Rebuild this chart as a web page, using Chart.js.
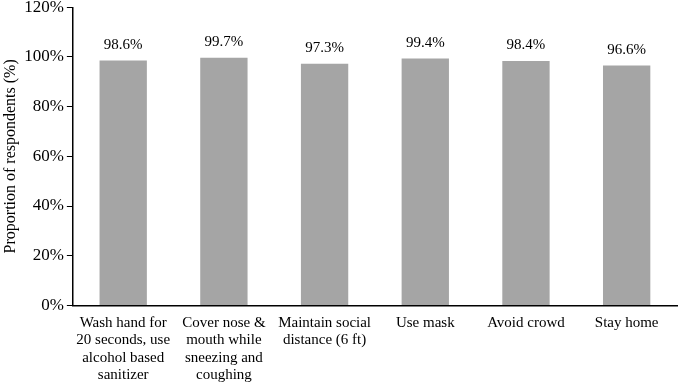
<!DOCTYPE html>
<html>
<head>
<meta charset="utf-8">
<script src="https://cdn.jsdelivr.net/npm/chart.js@4"></script>
<style>
  html, body { margin: 0; padding: 0; background: #fff; }
  #wrap { width: 678px; height: 382px; }
</style>
</head>
<body>
<div id="wrap"><canvas id="myChart" width="678" height="382"></canvas></div>
<script>
const categories = [
  ["Wash hand for", "20 seconds, use", "alcohol based", "sanitizer"],
  ["Cover nose &", "mouth while", "sneezing and", "coughing"],
  ["Maintain social", "distance (6 ft)"],
  "Use mask",
  "Avoid crowd",
  "Stay home",
];
const proportions = [98.6, 99.7, 97.3, 99.4, 98.4, 96.6];
const yTicks = [0, 20, 40, 60, 80, 100, 120];

const serif = "'Liberation Serif', 'Times New Roman', serif";

// draws the value above each bar
const valueLabels = {
  id: "valueLabels",
  afterDatasetsDraw(chart) {
    const ctx = chart.ctx;
    const meta = chart.getDatasetMeta(0);
    ctx.save();
    ctx.font = "15px " + serif;
    ctx.fillStyle = "#000";
    ctx.textAlign = "center";
    ctx.textBaseline = "bottom";
    meta.data.forEach((bar, i) => {
      ctx.fillText(proportions[i].toFixed(1) + "%", bar.x, bar.y - 8);
    });
    ctx.restore();
  },
};

new Chart(document.getElementById("myChart"), {
  type: "bar",
  data: {
    labels: categories,
    datasets: [
      {
        label: "Proportion",
        data: proportions,
        backgroundColor: "#a5a5a5",
        borderWidth: 0,
        barPercentage: 0.47,
        categoryPercentage: 1,
      },
    ],
  },
  options: {
    responsive: false,
    animation: false,
    layout: { padding: { left: 1, right: 1, top: 0, bottom: -3 } },
    plugins: {
      legend: { display: false },
      tooltip: { enabled: false },
    },
    scales: {
      x: {
        grid: { display: false },
        border: { display: true, color: "#000", width: 1.5 },
        ticks: {
          color: "#000",
          font: { family: serif, size: 15, lineHeight: 1.16 },
          maxRotation: 0,
          autoSkip: false,
          padding: 1,
        },
      },
      y: {
        min: 0,
        max: 120,
        afterBuildTicks(axis) {
          axis.ticks = yTicks.map((v) => ({ value: v }));
        },
        grid: {
          display: true,
          drawOnChartArea: false,
          drawTicks: true,
          tickLength: 6,
          color: "#000",
        },
        border: { display: true, color: "#000", width: 1.5 },
        ticks: {
          color: "#000",
          font: { family: serif, size: 17, lineHeight: 0.5 },
          padding: 3,
          callback: (v) => v + "%",
        },
        title: {
          display: true,
          text: "Proportion of respondents (%)",
          color: "#000",
          font: { family: serif, size: 16 },
          padding: { top: 0, bottom: 1 },
        },
      },
    },
  },
  plugins: [valueLabels],
});
</script>
</body>
</html>
